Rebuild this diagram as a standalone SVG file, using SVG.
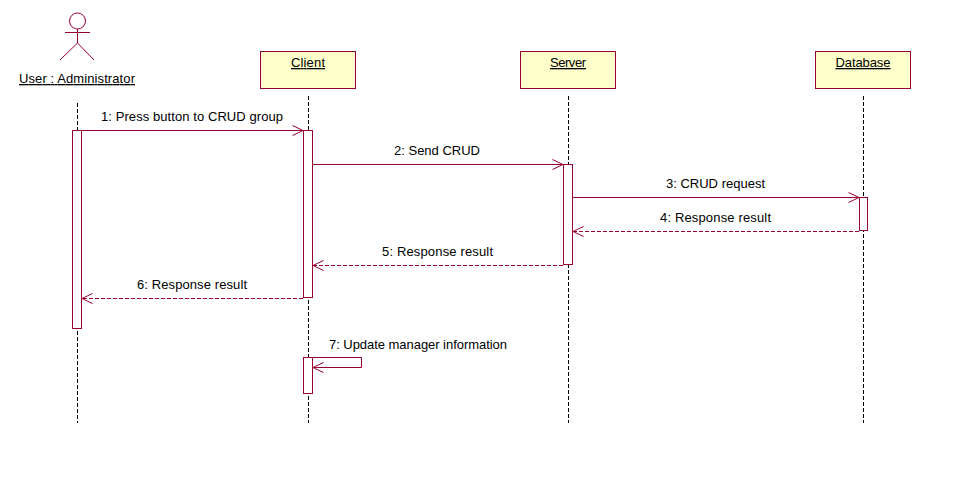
<svg xmlns="http://www.w3.org/2000/svg" width="979" height="481" viewBox="0 0 979 481">
<style>
text{font-family:"Liberation Sans",Arial,sans-serif;font-size:13px;fill:#000}
.n{text-anchor:middle;text-decoration:underline}
.b{fill:#ffffcb;stroke:#990033;stroke-width:1}
.l{stroke:#000;stroke-width:1;stroke-dasharray:4 2;fill:none}
.a{fill:#fff;stroke:#990033;stroke-width:1}
.m{stroke:#990033;stroke-width:1;fill:none}
.d{stroke-dasharray:4 2}
.s{stroke:#990033;stroke-width:1;fill:none}
</style>
<rect width="979" height="481" fill="#fff"/>
<g id="lifelines">
<path class="l" d="M77.500 103V423"/>
<path class="l" d="M308.500 96V423"/>
<path class="l" d="M568.500 96V423"/>
<path class="l" d="M863.500 96V423"/>
</g>
<g id="node-user">
<circle class="s" cx="77.500" cy="21" r="8"/>
<path class="s" d="M77.500 29V43M65 32.500H90M77.500 43L60 60M77.500 43L94 60"/>
<text class="n" x="77" y="83" textLength="116">User : Administrator</text>
</g>
<g id="node-client">
<rect class="b" x="260.500" y="51.500" width="95" height="37"/>
<text class="n" x="308" y="67" textLength="34">Client</text>
</g>
<g id="node-server">
<rect class="b" x="520.500" y="51.500" width="95" height="37"/>
<text class="n" x="568" y="67" textLength="36">Server</text>
</g>
<g id="node-database">
<rect class="b" x="815.500" y="51.500" width="95" height="37"/>
<text class="n" x="863" y="67" textLength="55">Database</text>
</g>
<g id="activations">
<rect class="a" x="72.500" y="130.500" width="9" height="198"/>
<rect class="a" x="303.500" y="130.500" width="9" height="167"/>
<rect class="a" x="563.500" y="164.500" width="9" height="100"/>
<rect class="a" x="859.500" y="197.500" width="8" height="33"/>
<rect class="a" x="303.500" y="357.500" width="9" height="36"/>
</g>
<g id="connectors">
<path class="m" d="M81.500 130.500H303M292.500 125.500L303 130.500L292.500 135.500"/>
<path class="m" d="M312.500 164.500H563M552.500 159.500L563 164.500L552.500 169.500"/>
<path class="m" d="M572.500 197.500H859M848.500 192.500L859 197.500L848.500 202.500"/>
<path class="m d" d="M859 231.500H573"/>
<path class="m" d="M583.500 226.500L573 231.500L583.500 236.500"/>
<path class="m d" d="M563 265.500H313"/>
<path class="m" d="M323.500 260.500L313 265.500L323.500 270.500"/>
<path class="m d" d="M303 298.500H82"/>
<path class="m" d="M92.500 293.500L82 298.500L92.500 303.500"/>
<path class="m" d="M312.500 357.500H361.500V367.500H313"/>
<path class="m" d="M323.500 362.500L313 367.500L323.500 372.500"/>
</g>
<g id="labels">
<text x="101" y="121" textLength="182">1: Press button to CRUD group</text>
<text x="394" y="155" textLength="86">2: Send CRUD</text>
<text x="666" y="188" textLength="99">3: CRUD request</text>
<text x="660" y="222" textLength="111">4: Response result</text>
<text x="382" y="256" textLength="111">5: Response result</text>
<text x="137" y="289" textLength="110">6: Response result</text>
<text x="329" y="349" textLength="178">7: Update manager information</text>
</g>
</svg>
